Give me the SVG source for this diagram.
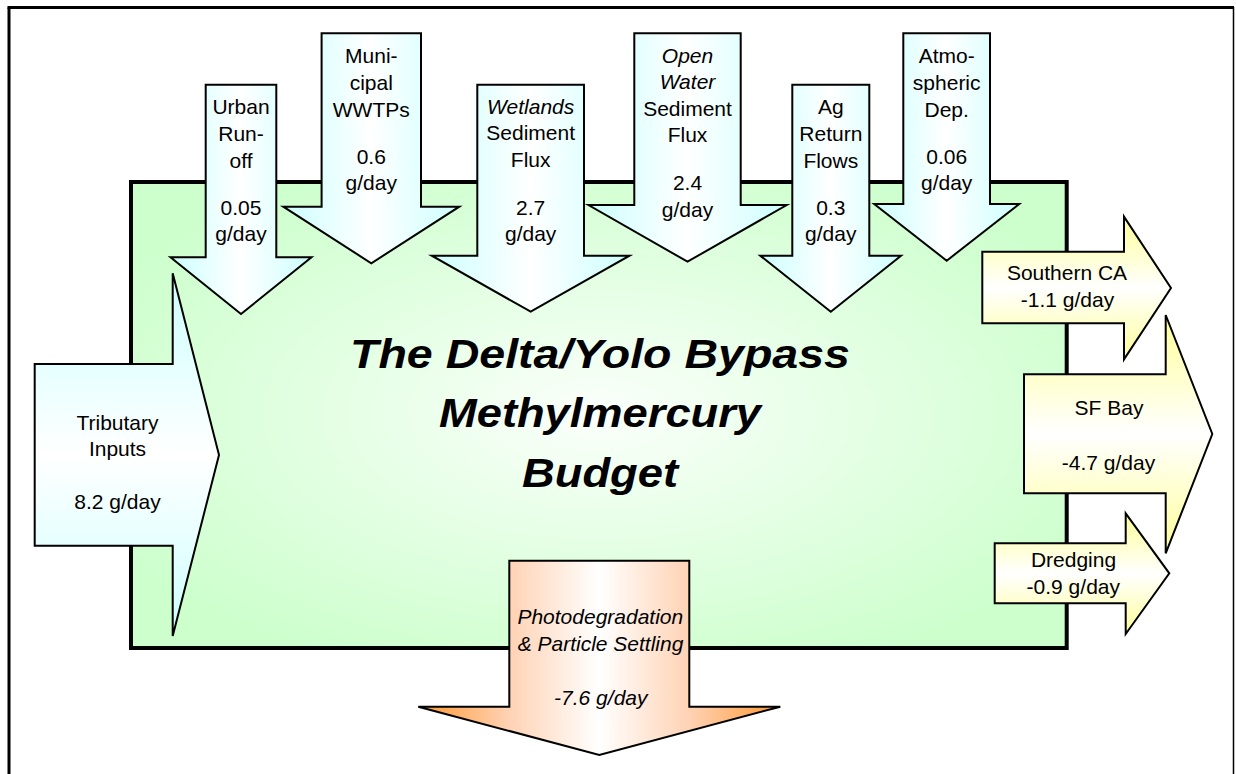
<svg xmlns="http://www.w3.org/2000/svg" width="1236" height="774" viewBox="0 0 1236 774">
<defs>
<radialGradient id="gGreen" cx="50%" cy="50%" r="60%">
<stop offset="0" stop-color="#FBFFFB"/>
<stop offset="0.35" stop-color="#EAFFEA"/>
<stop offset="1" stop-color="#CCFFCC"/>
</radialGradient>
<linearGradient id="gCyanH" x1="0" y1="0" x2="1" y2="0">
<stop offset="0" stop-color="#CCFFFF"/>
<stop offset="0.5" stop-color="#FFFFFF"/>
<stop offset="1" stop-color="#CCFFFF"/>
</linearGradient>
<linearGradient id="gCyanV" x1="0" y1="0" x2="0" y2="1">
<stop offset="0" stop-color="#CCFFFF"/>
<stop offset="0.5" stop-color="#FFFFFF"/>
<stop offset="1" stop-color="#CCFFFF"/>
</linearGradient>
<linearGradient id="gYellow" x1="0" y1="0" x2="0" y2="1">
<stop offset="0" stop-color="#FFFF99"/>
<stop offset="0.5" stop-color="#FFFFFF"/>
<stop offset="1" stop-color="#FFFF99"/>
</linearGradient>
<linearGradient id="gOrange" x1="0" y1="0" x2="1" y2="0">
<stop offset="0" stop-color="#FF9933"/>
<stop offset="0.25" stop-color="#FFD2B4"/>
<stop offset="0.5" stop-color="#FFFFFF"/>
<stop offset="0.75" stop-color="#FFD2B4"/>
<stop offset="1" stop-color="#FF9933"/>
</linearGradient>
</defs>
<style>
.arrow{stroke:#000;stroke-width:2;stroke-linejoin:miter}
.cy{fill:url(#gCyanH)}
.cyv{fill:url(#gCyanV)}
.ye{fill:url(#gYellow)}
.or{fill:url(#gOrange)}
.t{font-family:"Liberation Sans",Arial,Helvetica,sans-serif;font-size:21px;text-anchor:middle;fill:#000}
.i{font-style:italic}
.title{font-family:"Liberation Sans",Arial,Helvetica,sans-serif;font-size:40px;font-weight:bold;font-style:italic;text-anchor:middle;fill:#000}
</style>
<rect width="1236" height="774" fill="#FFFFFF"/>
<g id="frame">
<line x1="9" y1="7.5" x2="9" y2="774" stroke="#000" stroke-width="3"/>
<line x1="7.5" y1="7.5" x2="1234" y2="7.5" stroke="#000" stroke-width="3"/>
<line x1="1233.5" y1="7" x2="1233.5" y2="774" stroke="#000" stroke-width="1.5"/>
</g>
<g id="budget">
<rect x="131" y="182" width="935.7" height="466" fill="url(#gGreen)" stroke="#000" stroke-width="4"/>
<text class="title" x="600" y="368" textLength="500" lengthAdjust="spacingAndGlyphs">The Delta/Yolo Bypass</text>
<text class="title" x="600" y="427" textLength="322" lengthAdjust="spacingAndGlyphs">Methylmercury</text>
<text class="title" x="600" y="487" textLength="156" lengthAdjust="spacingAndGlyphs">Budget</text>
</g>
<g id="connectors">
<g id="urban">
<polygon class="arrow cy" points="205.7,84.7 276.3,84.7 276.3,257.3 311.5,257.3 241,314 170.5,257.3 205.7,257.3"/>
<text class="t" x="241" y="114.3">Urban</text>
<text class="t" x="241" y="141.3">Run-</text>
<text class="t" x="241" y="168.3">off</text>
<text class="t" x="241" y="215">0.05</text>
<text class="t" x="241" y="241">g/day</text>
</g>
<g id="municipal">
<polygon class="arrow cy" points="321.6,33.3 421,33.3 421,206.7 459.3,206.7 371.3,263.3 283.3,206.7 321.6,206.7"/>
<text class="t" x="371.3" y="63.3">Muni-</text>
<text class="t" x="371.3" y="90">cipal</text>
<text class="t" x="371.3" y="116.7">WWTPs</text>
<text class="t" x="371.3" y="164">0.6</text>
<text class="t" x="371.3" y="190">g/day</text>
</g>
<g id="wetlands">
<polygon class="arrow cy" points="477.3,84.7 584,84.7 584,255.7 629.5,255.7 530.7,311.7 431.8,255.7 477.3,255.7"/>
<text class="t i" x="530.7" y="113.5">Wetlands</text>
<text class="t" x="530.7" y="140.3">Sediment</text>
<text class="t" x="530.7" y="167">Flux</text>
<text class="t" x="530.7" y="215">2.7</text>
<text class="t" x="530.7" y="241">g/day</text>
</g>
<g id="openwater">
<polygon class="arrow cy" points="634.3,33.3 740.7,33.3 740.7,205 786.7,205 687.5,261.7 588.5,205 634.3,205"/>
<text class="t i" x="687.5" y="62.7">Open</text>
<text class="t i" x="687.5" y="89.3">Water</text>
<text class="t" x="687.5" y="115.5">Sediment</text>
<text class="t" x="687.5" y="142">Flux</text>
<text class="t" x="687.5" y="190">2.4</text>
<text class="t" x="687.5" y="216.5">g/day</text>
</g>
<g id="ag">
<polygon class="arrow cy" points="792.3,84.7 869.3,84.7 869.3,255.7 901,255.7 830.8,311.7 760.3,255.7 792.3,255.7"/>
<text class="t" x="830.8" y="114">Ag</text>
<text class="t" x="830.8" y="141">Return</text>
<text class="t" x="830.8" y="168">Flows</text>
<text class="t" x="830.8" y="215">0.3</text>
<text class="t" x="830.8" y="241">g/day</text>
</g>
<g id="atmospheric">
<polygon class="arrow cy" points="903.3,33.3 990,33.3 990,204 1019.3,204 946.7,260.7 874.2,204 903.3,204"/>
<text class="t" x="946.7" y="63.3">Atmo-</text>
<text class="t" x="946.7" y="90">spheric</text>
<text class="t" x="946.7" y="116.7">Dep.</text>
<text class="t" x="946.7" y="164">0.06</text>
<text class="t" x="946.7" y="190">g/day</text>
</g>
<g id="tributary">
<polygon class="arrow cyv" points="34.7,364 172.7,364 172.7,273.3 219,455 172.7,636 172.7,545.7 34.7,545.7"/>
<text class="t" x="117.5" y="430">Tributary</text>
<text class="t" x="117.5" y="455.5">Inputs</text>
<text class="t" x="117.5" y="509.3">8.2 g/day</text>
</g>
<g id="southernca">
<polygon class="arrow ye" points="982.3,251.7 1124,251.7 1124,216.7 1171,288 1124,359.3 1124,323.3 982.3,323.3"/>
<text class="t" x="1067" y="280">Southern CA</text>
<text class="t" x="1067.5" y="306.5">-1.1 g/day</text>
</g>
<g id="sfbay">
<polygon class="arrow ye" points="1024,374.3 1165.7,374.3 1165.7,315 1212.3,434 1165.7,553.3 1165.7,493.3 1024,493.3"/>
<text class="t" x="1109" y="415">SF Bay</text>
<text class="t" x="1108.5" y="470">-4.7 g/day</text>
</g>
<g id="dredging">
<polygon class="arrow ye" points="994.7,543.3 1125.7,543.3 1125.7,513.3 1169.3,573.3 1125.7,634 1125.7,603.3 994.7,603.3"/>
<text class="t" x="1073.5" y="567.3">Dredging</text>
<text class="t" x="1073.3" y="594.3">-0.9 g/day</text>
</g>
<g id="photodegradation">
<polygon class="arrow or" points="509.3,560.7 689.3,560.7 689.3,706.7 780.3,706.7 599.3,755 418.3,706.7 509.3,706.7"/>
<text class="t i" x="600.3" y="624.3">Photodegradation</text>
<text class="t i" x="600.5" y="651">&amp; Particle Settling</text>
<text class="t i" x="600.8" y="705">-7.6 g/day</text>
</g>
</g>
</svg>
